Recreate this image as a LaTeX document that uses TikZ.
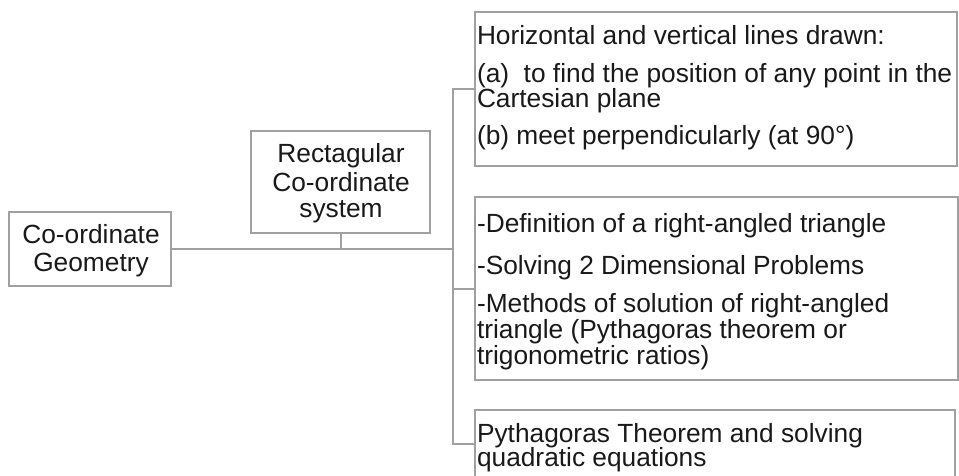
\documentclass[tikz,border=0pt]{standalone}
\usepackage{fontspec}
\setmainfont{Liberation Sans}
\newcommand{\dgfont}{\fontsize{26.3}{27}\selectfont}
\definecolor{linegray}{RGB}{160,160,160}
\definecolor{txtcol}{RGB}{25,25,25}
\tikzset{
  box/.style={draw=linegray, line width=1.7pt, rectangle, inner sep=0pt, outer sep=0pt},
  link/.style={draw=linegray, line width=2pt},
  txtl/.style={anchor=base west, inner sep=0pt, outer sep=0pt, font=\dgfont, text=txtcol},
  txtc/.style={anchor=base, inner sep=0pt, outer sep=0pt, font=\dgfont, text=txtcol}
}
\begin{document}
\begin{tikzpicture}[x=1pt,y=-1pt]
\useasboundingbox (0,0) rectangle (959,476);
\clip (0,0) rectangle (959,476);
\fill[white] (0,0) rectangle (959,476);

% boxes
\node[box, minimum width=162pt, minimum height=74pt] (geo) at (90,249) {};
\node[box, minimum width=179pt, minimum height=102pt] (rc) at (340.5,182) {};
\node[box, minimum width=482pt, minimum height=154pt] (hz) at (716,89) {};
\node[box, minimum width=483pt, minimum height=183pt] (rt) at (716.5,288.5) {};
\node[box, minimum width=480pt, minimum height=68pt] (py) at (715,444) {};

% connectors
\coordinate (tx) at (453,0);
\draw[link] (geo.east) -- (geo.east -| tx);
\draw[link] (rc.south) -- (rc.south |- geo.east);
\draw[link] (hz.west) -- (hz.west -| tx) -- (py.west -| tx) -- (py.west);
\draw[link] (rt.west) -- (rt.west -| tx);

% texts
\node[txtc] (g1) at (91,243) {Co-ordinate};
\node[txtc] (g2) at (91,271) {Geometry};

\node[txtc] (r1) at (341,163) {Rectagular};
\node[txtc] (r2) at (341,191) {Co-ordinate};
\node[txtc] (r3) at (341,217) {system};

\node[txtl] (h1) at (477,45) {Horizontal and vertical lines drawn:};
\node[txtl] (h2) at (477,83) {(a)\ \ to find the position of any point in the};
\node[txtl] (h3) at (477,108) {Cartesian plane};
\node[txtl] (h4) at (477,145) {(b) meet perpendicularly (at 90°)};

\node[txtl] (t1) at (477,232) {-Definition of a right-angled triangle};
\node[txtl] (t2) at (477,274) {-Solving 2 Dimensional Problems};
\node[txtl] (t3) at (477,312) {-Methods of solution of right-angled};
\node[txtl] (t4) at (477,338) {triangle (Pythagoras theorem or};
\node[txtl] (t5) at (477,364) {trigonometric ratios)};

\node[txtl] (p1) at (477,442) {Pythagoras Theorem and solving};
\node[txtl] (p2) at (477,466) {quadratic equations};
\end{tikzpicture}
\end{document}
